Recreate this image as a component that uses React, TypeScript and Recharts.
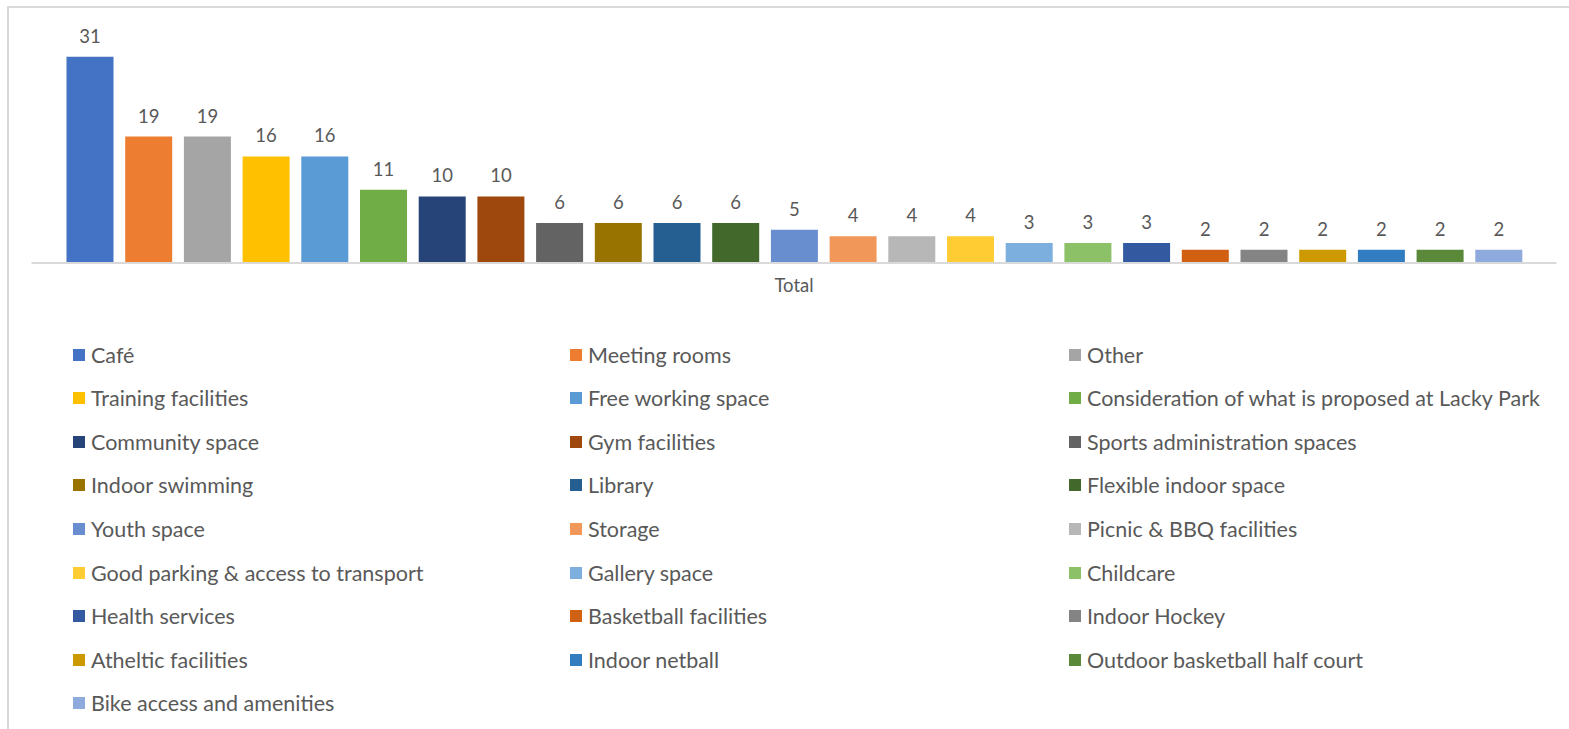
import React from "react";
import { BarChart, Bar, XAxis, YAxis, LabelList } from "recharts";

const categories = ["Total"];

const seriesNames = [
  "Café",
  "Meeting rooms",
  "Other",
  "Training facilities",
  "Free working space",
  "Consideration of what is proposed at Lacky Park",
  "Community space",
  "Gym facilities",
  "Sports administration spaces",
  "Indoor swimming",
  "Library",
  "Flexible indoor space",
  "Youth space",
  "Storage",
  "Picnic & BBQ facilities",
  "Good parking & access to transport",
  "Gallery space",
  "Childcare",
  "Health services",
  "Basketball facilities",
  "Indoor Hockey",
  "Atheltic facilities",
  "Indoor netball",
  "Outdoor basketball half court",
  "Bike access and amenities",
];

const seriesValues = [31, 19, 19, 16, 16, 11, 10, 10, 6, 6, 6, 6, 5, 4, 4, 4, 3, 3, 3, 2, 2, 2, 2, 2, 2];

const seriesColors = [
  "#4472C4", "#ED7D31", "#A5A5A5", "#FFC000", "#5B9BD5", "#70AD47",
  "#264478", "#9E480E", "#636363", "#997300", "#255E91", "#43682B",
  "#698ED0", "#F1975A", "#B7B7B7", "#FFCD33", "#7CAFDD", "#8CC168",
  "#335AA1", "#D26012", "#848484", "#CC9A00", "#327DC2", "#5A8A39",
  "#8FAADC",
];

const data = categories.map((name) => {
  const row: Record<string, string | number> = { name };
  seriesValues.forEach((v, i) => (row[`s${i}`] = v));
  return row;
});

const FONT = "Lato, 'Open Sans', sans-serif";
const TEXT = "#595959";

export default function App() {
  return (
    <div
      style={{
        position: "fixed",
        left: 0,
        top: 0,
        width: 1569,
        height: 729,
        overflow: "hidden",
        background: "#fff",
        fontFamily: FONT,
      }}
    >
      <div
        style={{
          position: "absolute",
          left: 7,
          top: 6,
          width: 1700,
          height: 900,
          border: "2px solid #d9d9d9",
        }}
      />
      <div style={{ position: "absolute", left: 0, top: 0 }}>
        <BarChart
          width={1569}
          height={310}
          data={data}
          margin={{ top: 30, right: 12.5, bottom: 17, left: 31.5 }}
          barSize={47}
          barGap={11.7}
        >
          <XAxis
            dataKey="name"
            axisLine={{ stroke: "#d9d9d9", strokeWidth: 2 }}
            tickLine={false}
            height={30}
            tickMargin={10}
            tick={{ fill: TEXT, fontSize: 18.5, fontFamily: FONT }}
          />
          <YAxis hide domain={[0, 35]} />
          {seriesNames.map((n, i) => (
            <Bar key={n} dataKey={`s${i}`} name={n} fill={seriesColors[i]} isAnimationActive={false}>
              <LabelList
                dataKey={`s${i}`}
                position="top"
                offset={14}
                fill={TEXT}
                fontSize={18.5}
                fontFamily={FONT}
              />
            </Bar>
          ))}
        </BarChart>
      </div>
      {seriesNames.map((n, i) => {
        const col = i % 3;
        const row = Math.floor(i / 3);
        const left = [73, 570, 1069][col];
        const cy = 354.5 + row * 43.6;
        return (
          <div
            key={n}
            style={{
              position: "absolute",
              left,
              top: cy - 13,
              height: 26,
              display: "flex",
              alignItems: "center",
              whiteSpace: "nowrap",
              color: TEXT,
              fontSize: 21.5,
            }}
          >
            <span
              style={{ display: "inline-block", width: 12, height: 12, background: seriesColors[i], marginRight: 6 }}
            />
            <span>{n}</span>
          </div>
        );
      })}
    </div>
  );
}
